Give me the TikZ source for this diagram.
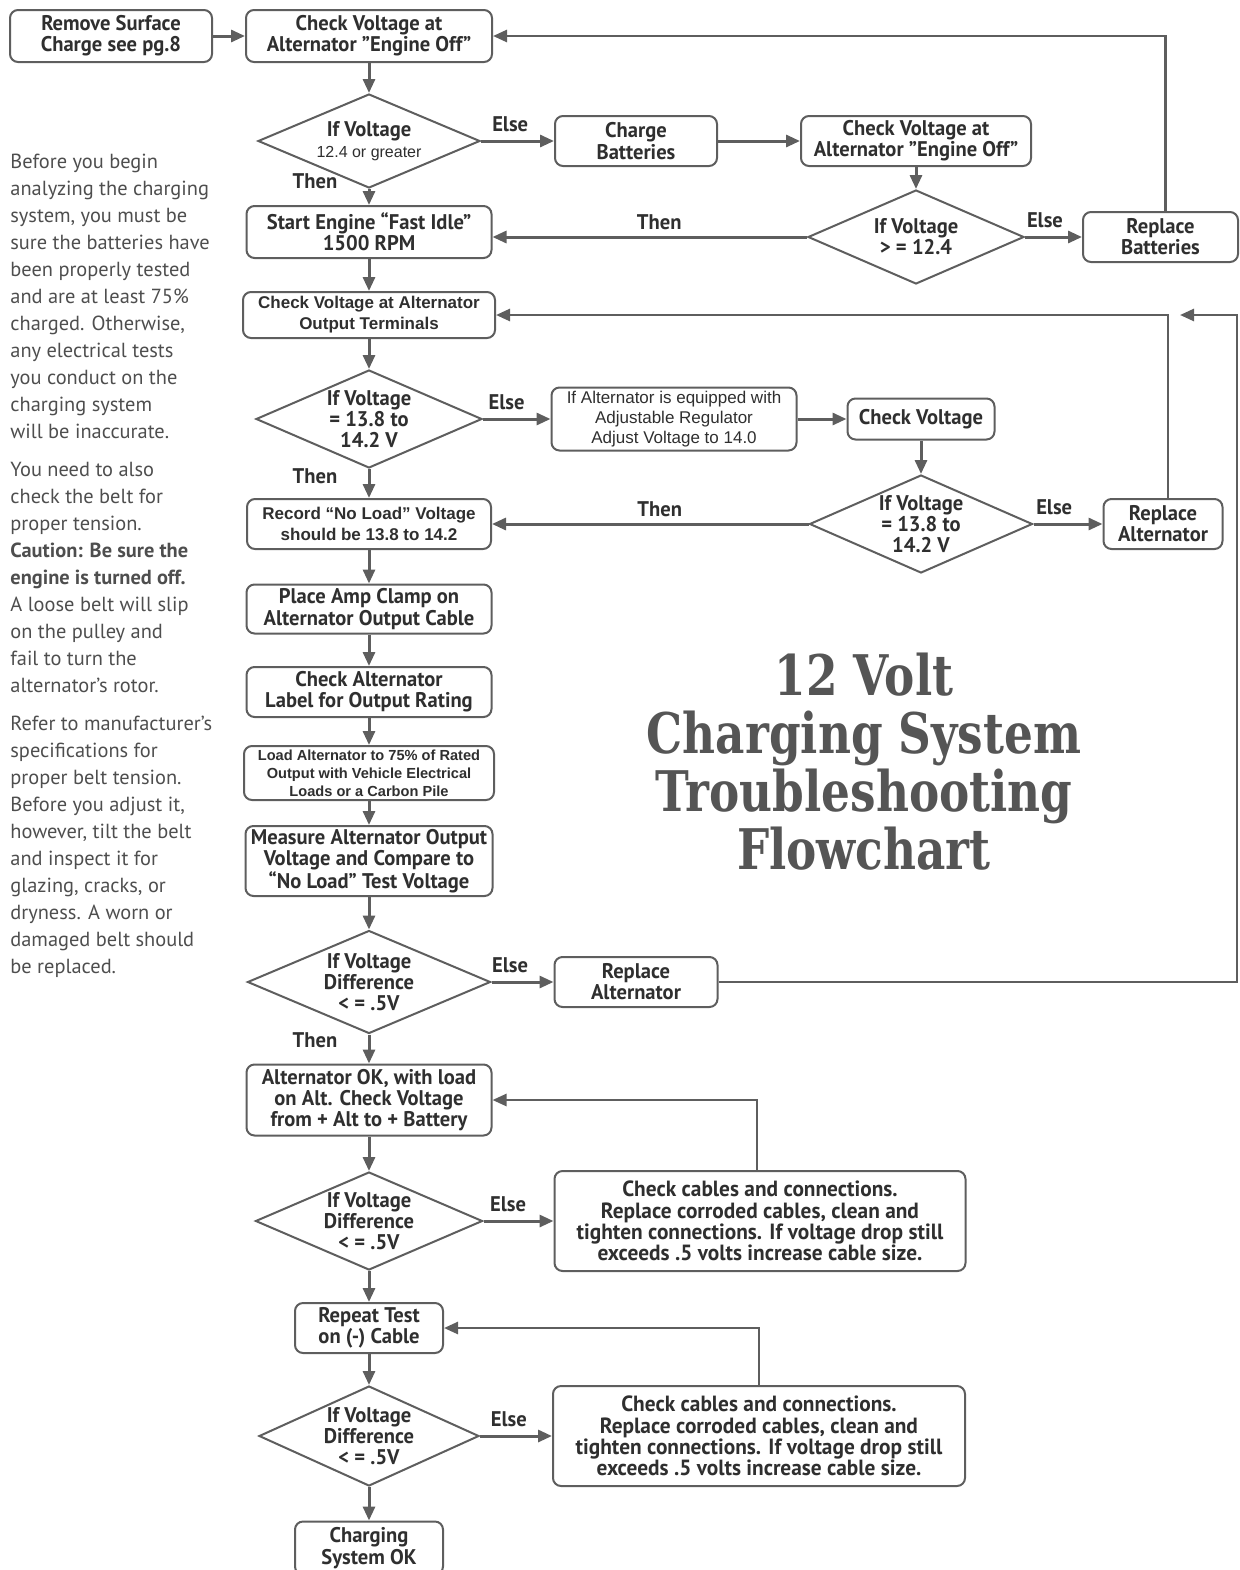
\documentclass[tikz,border=0pt]{standalone}
\usepackage{fontspec}
\usepackage{xcolor}
\usepackage{tikz}
\usetikzlibrary{shapes.geometric,arrows.meta,calc,positioning}

\newfontfamily\boxfam[FakeStretch=0.97]{PT Sans}
\newfontfamily\arialfam{Liberation Sans}
\newfontfamily\sidefam{PT Sans}
\newfontfamily\titlefam[FakeStretch=0.81]{DejaVu Serif}

\definecolor{linegray}{HTML}{5E5E5E}
\definecolor{inkgray}{HTML}{2F2F2F}
\definecolor{titlegray}{HTML}{555555}

\tikzstyle{stepbox} = [rectangle, draw=linegray, line width=1pt, rounded corners=4pt, fill=white, align=center, text=inkgray, inner sep=1pt, font=\boxfam\bfseries\fontsize{10.6}{10.6}\selectfont]
\tikzstyle{decision} = [diamond, draw=linegray, line width=1pt, aspect=2.3, inner sep=-2pt, fill=white, align=center, text=inkgray, font=\boxfam\bfseries\fontsize{10.6}{10.6}\selectfont]
\tikzstyle{flow} = [draw=linegray, line width=1.5pt, -{Triangle[length=7pt,width=6pt]}]
\tikzstyle{loopback} = [flow, line width=1.3pt]
\tikzstyle{lbl} = [text=inkgray, inner sep=2pt, font=\boxfam\bfseries\fontsize{10.6}{10.6}\selectfont]
\tikzstyle{arialbold} = [font=\arialfam\bfseries\fontsize{8.5}{10.5}\selectfont]

\begin{document}
\begin{tikzpicture}[x=0.5pt, y=-0.5pt]
\useasboundingbox (0,0) rectangle (1240,1570);
\clip (0,0) rectangle (1240,1570);

% notes on the left
\node [anchor=north west, inner sep=0pt, align=left, text=inkgray!85, font=\sidefam\fontsize{10.2}{13.5}\selectfont] (notes) at (10,154)
{Before you begin\\analyzing the charging\\system, you must be\\sure the batteries have\\been properly tested\\and are at least 75\%\\charged. Otherwise,\\any electrical tests\\you conduct on the\\charging system\\will be inaccurate.\\[5.5pt]
You need to also\\check the belt for\\proper tension.\\\textbf{Caution: Be sure the}\\\textbf{engine is turned off.}\\A loose belt will slip\\on the pulley and\\fail to turn the\\alternator’s rotor.\\[5.5pt]
Refer to manufacturer’s\\specifications for\\proper belt tension.\\Before you adjust it,\\however, tilt the belt\\and inspect it for\\glazing, cracks, or\\dryness. A worn or\\damaged belt should\\be replaced.};

% title
\node [align=center, text=titlegray, font=\titlefam\bfseries\fontsize{28}{29}\selectfont] (title) at (864,762) {12 Volt\\Charging System\\Troubleshooting\\Flowchart};

% battery check
\node [stepbox, minimum width=101pt, minimum height=26pt] (surface) at (111,36) {Remove Surface\\Charge see pg.8};
\node [stepbox, minimum width=123pt, minimum height=26pt] (offcheck) at (369,36) {Check Voltage at\\Alternator ”Engine Off”};
\node [decision, minimum width=111pt, minimum height=47pt] (volt1) at (369,141) {If Voltage\\{\arialfam\mdseries\fontsize{8}{8}\selectfont 12.4 or greater}};
\node [stepbox, minimum width=81pt, minimum height=25pt] (charge) at (636,141) {Charge\\Batteries};
\node [stepbox, minimum width=115pt, minimum height=25pt] (offcheck2) at (916,141) {Check Voltage at\\Alternator ”Engine Off”};
\node [decision, minimum width=108pt, minimum height=47pt] (volt2) at (916,237) {If Voltage\\> = 12.4};
\node [stepbox, minimum width=77.5pt, minimum height=25pt] (batrep) at (1160.5,237) {Replace\\Batteries};
\node [stepbox, minimum width=122.5pt, minimum height=26pt] (start) at (369,232) {Start Engine “Fast Idle”\\1500 RPM};

% no load test
\node [stepbox, arialbold, minimum width=126pt, minimum height=23pt] (outcheck) at (369,315) {Check Voltage at Alternator\\Output Terminals};
\node [decision, minimum width=113pt, minimum height=49pt] (volt3) at (369,419) {If Voltage\\= 13.8 to\\14.2 V};
\node [stepbox, font=\arialfam\fontsize{8.5}{10}\selectfont, minimum width=122.5pt, minimum height=31.5pt] (adjust) at (674,419) {If Alternator is equipped with\\Adjustable Regulator\\Adjust Voltage to 14.0};
\node [stepbox, minimum width=73.5pt, minimum height=20.5pt] (vcheck) at (921,419) {Check Voltage};
\node [decision, minimum width=111.5pt, minimum height=49pt] (volt4) at (921,524) {If Voltage\\= 13.8 to\\14.2 V};
\node [stepbox, minimum width=59.5pt, minimum height=25pt] (altrep1) at (1163,524) {Replace\\Alternator};
\node [stepbox, arialbold, minimum width=122pt, minimum height=25pt] (noload) at (369,524) {Record “No Load” Voltage\\should be 13.8 to 14.2};

% load test
\node [stepbox, minimum width=122.5pt, minimum height=24.5pt] (clamp) at (369,609) {Place Amp Clamp on\\Alternator Output Cable};
\node [stepbox, minimum width=122.5pt, minimum height=25pt] (rating) at (369,692) {Check Alternator\\Label for Output Rating};
\node [stepbox, font=\arialfam\bfseries\fontsize{7.3}{9}\selectfont, minimum width=125pt, minimum height=27pt] (loadalt) at (369,773) {Load Alternator to 75\% of Rated\\Output with Vehicle Electrical\\Loads or a Carbon Pile};
\node [stepbox, minimum width=123.5pt, minimum height=35pt] (measure) at (369,861) {Measure Alternator Output\\Voltage and Compare to\\“No Load” Test Voltage};
\node [decision, minimum width=121.5pt, minimum height=51.5pt] (diff1) at (369,982) {If Voltage\\Difference\\< = .5V};
\node [stepbox, minimum width=81.5pt, minimum height=25pt] (altrep2) at (636,982) {Replace\\Alternator};

% cable test
\node [stepbox, minimum width=122.5pt, minimum height=35.5pt] (altok) at (369,1100) {Alternator OK, with load\\on Alt. Check Voltage\\from + Alt to + Battery};
\node [decision, minimum width=113.5pt, minimum height=49pt] (diff2) at (369,1221) {If Voltage\\Difference\\< = .5V};
\node [stepbox, font=\boxfam\bfseries\fontsize{11}{10.6}\selectfont, minimum width=205.5pt, minimum height=50pt] (cables1) at (760,1221) {Check cables and connections.\\Replace corroded cables, clean and\\tighten connections. If voltage drop still\\exceeds .5 volts increase cable size.};
\node [stepbox, minimum width=74pt, minimum height=25pt] (repeat) at (369,1328) {Repeat Test\\on (-) Cable};
\node [decision, minimum width=110pt, minimum height=50pt] (diff3) at (369,1436) {If Voltage\\Difference\\< = .5V};
\node [stepbox, font=\boxfam\bfseries\fontsize{11}{10.6}\selectfont, minimum width=206pt, minimum height=50pt] (cables2) at (759,1436) {Check cables and connections.\\Replace corroded cables, clean and\\tighten connections. If voltage drop still\\exceeds .5 volts increase cable size.};
\node [stepbox, minimum width=74pt, minimum height=26.5pt] (sysok) at (369,1548) {Charging\\System OK};

\coordinate (rim) at (1237,315);
\coordinate (rimjoin) at (1180,315);

% main column
\path [flow] (surface) -- (offcheck);
\path [flow] (offcheck) -- (volt1);
\path [flow] (volt1) -- (start);
\path [flow] (start) -- (outcheck);
\path [flow] (outcheck) -- (volt3);
\path [flow] (volt3) -- (noload);
\path [flow] (noload) -- (clamp);
\path [flow] (clamp) -- (rating);
\path [flow] (rating) -- (loadalt);
\path [flow] (loadalt) -- (measure);
\path [flow] (measure) -- (diff1);
\path [flow] (diff1) -- (altok);
\path [flow] (altok) -- (diff2);
\path [flow] (diff2) -- (repeat);
\path [flow] (repeat) -- (diff3);
\path [flow] (diff3) -- (sysok);

\node [lbl] (then1) at (315,181) {Then};
\node [lbl] (then3) at (315,476) {Then};
\node [lbl] (then5) at (315,1040) {Then};

% branches
\path [flow] (volt1) -- (charge) node [lbl, pos=0.4, above=2pt] (else1) {Else};
\path [flow] (charge) -- (offcheck2);
\path [flow] (offcheck2) -- (volt2);
\path [flow] (volt2.west) -- (volt2.west -| start.east) node [lbl, pos=0.47, above=1pt] (then2) {Then};
\path [flow] (volt2) -- (batrep) node [lbl, pos=0.35, above=2pt] (else2) {Else};
\path [flow] (volt3) -- (adjust) node [lbl, pos=0.35, above=2pt] (else3) {Else};
\path [flow] (adjust) -- (vcheck);
\path [flow] (vcheck) -- (volt4);
\path [flow] (volt4.west) -- (volt4.west -| noload.east) node [lbl, pos=0.47, above=1pt] (then4) {Then};
\path [flow] (volt4) -- (altrep1) node [lbl, pos=0.3, above=2pt] (else4) {Else};
\path [flow] (diff1) -- (altrep2) node [lbl, pos=0.3, above=2pt] (else5) {Else};
\path [flow] (diff2) -- (cables1) node [lbl, pos=0.35, above=2pt] (else6) {Else};
\path [flow] (diff3) -- (cables2) node [lbl, pos=0.4, above=2pt] (else7) {Else};

% loops back
\path [loopback] ($(batrep.north)+(5,0)$) |- (offcheck.east);
\path [loopback] ($(altrep1.north)+(5,0)$) |- (outcheck.east);
\path [loopback] (altrep2.east) -| (rim) -- (rimjoin);
\path [loopback] ($(cables1.north)+(-3,0)$) |- (altok.east);
\path [loopback] (cables2.north) |- (repeat.east);

\end{tikzpicture}
\end{document}
